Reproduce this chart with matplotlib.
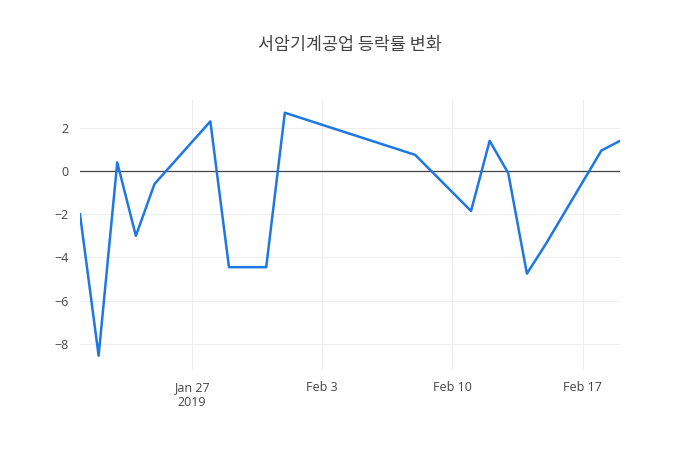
import matplotlib
matplotlib.use("Agg")
import matplotlib.pyplot as plt
import matplotlib.dates as mdates
import pandas as pd

dates = ["2019-01-21","2019-01-22","2019-01-23","2019-01-24","2019-01-25","2019-01-28","2019-01-29",
         "2019-01-31","2019-02-01","2019-02-08","2019-02-11","2019-02-12","2019-02-13","2019-02-14",
         "2019-02-15","2019-02-18","2019-02-19"]
values = [-2.0,-8.55,0.4,-3.0,-0.6,2.3,-4.45,-4.45,2.7,0.75,-1.85,1.4,-0.1,-4.75,-3.4,0.95,1.4]
x = pd.to_datetime(dates)

fig = plt.figure(figsize=(7,4.5), dpi=100)
ax = fig.add_axes([80/700, 80/450, 540/700, 270/450])
ax.plot(x, values, color="#1f77e4", lw=1.8, zorder=3)
ax.axhline(0, color="#444", lw=0.9, zorder=2)
ax.set_xlim(x[0], x[-1])
ax.set_ylim(-9.21, 3.29)
ax.set_yticks([-8,-6,-4,-2,0,2])
ax.set_yticklabels(["\u22128","\u22126","\u22124","\u22122","0","2"])
ticks = pd.to_datetime(["2019-01-27","2019-02-03","2019-02-10","2019-02-17"])
ax.set_xticks(ticks)
ax.set_xticklabels(["Jan 27\n2019","Feb 3","Feb 10","Feb 17"])
ax.grid(color="#eeeeee", lw=0.8)
for s in ax.spines.values():
    s.set_visible(False)
ax.tick_params(length=0, colors="#444", labelsize=9, pad=8)
for l in ax.get_xticklabels()+ax.get_yticklabels():
    l.set_fontfamily(["Open Sans","DejaVu Sans"])
fig.text(0.5, 1-45/450, "서암기계공업 등락률 변화", ha="center", va="center",
         fontsize=12.5, color="#444", family=["Noto Sans CJK KR","DejaVu Sans"])
fig.savefig("out.png")
